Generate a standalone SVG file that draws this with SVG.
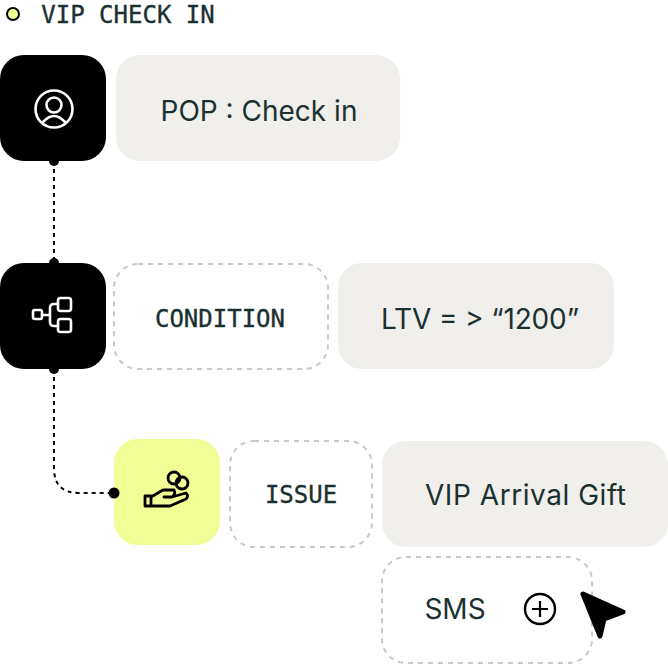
<svg xmlns="http://www.w3.org/2000/svg" width="668" height="664" viewBox="0 0 668 664">
<style>
.sans{font-family:"Inter","Noto Sans","Liberation Sans",sans-serif;font-size:28px;fill:#1b3131;text-anchor:middle}
.mono{font-family:"DejaVu Sans Mono","Liberation Mono",monospace;font-size:24px;fill:#1b3131;stroke:#1b3131;stroke-width:.35;text-anchor:middle}
.dash{fill:#fff;stroke:#c9c9c9;stroke-width:2;stroke-dasharray:5 5}
.grey{fill:#f0efeb}
.ico{fill:none;stroke:#fff;stroke-width:2.6;stroke-linecap:round;stroke-linejoin:round}
.ick{fill:none;stroke:#000;stroke-width:2.8;stroke-linecap:round;stroke-linejoin:round}
.wire{fill:none;stroke:#000;stroke-width:2;stroke-dasharray:4 4}
</style>
<rect width="668" height="664" fill="#fff"/>
<g id="title">
<circle cx="13" cy="14" r="6" fill="#f1fd95" stroke="#000" stroke-width="2"/>
<text class="mono" x="128" y="23">VIP CHECK IN</text>
</g>
<g id="node-pop">
<rect x="0" y="55" width="106" height="106" rx="24"/>
<circle class="ico" cx="54" cy="109" r="18.5"/><circle class="ico" cx="54" cy="105" r="7.5"/><path class="ico" d="M43 122Q54 110 65 122"/>
</g>
<g id="node-pop-label"><rect class="grey" x="116" y="55" width="284" height="106" rx="24"/><text class="sans" x="259" y="121">POP : Check in</text></g>
<g id="node-branch">
<rect x="0" y="263" width="106" height="106" rx="24"/>
<rect class="ico" x="33" y="310" width="9" height="9" rx="2"/><rect class="ico" x="58" y="298" width="13" height="13" rx="2.5"/><rect class="ico" x="58" y="319" width="13" height="13" rx="2.5"/>
<path class="ico" d="M42 315H50M58 304H54Q50 304 50 308V322Q50 326 54 326H58"/>
</g>
<g id="node-condition"><rect class="dash" x="114" y="264" width="214" height="105" rx="24"/><text class="mono" x="220" y="327">CONDITION</text></g>
<g id="node-ltv"><rect class="grey" x="338" y="263" width="276" height="106" rx="24"/><text class="sans" x="480" y="329" textLength="198">LTV = &gt; “1200”</text></g>
<g id="node-gift-icon">
<rect x="114" y="439" width="106" height="106" rx="24" fill="#f1fd95"/>
<circle class="ick" cx="174" cy="478" r="6"/><circle class="ick" cx="182" cy="483" r="6"/>
<path class="ick" d="M145 496H151V506H145ZM151 497L163 490H174Q176 494 172 497H164M172 497L186 493Q189 496 186 499L170 506H151"/>
</g>
<g id="node-issue"><rect class="dash" x="230" y="441" width="142" height="106" rx="24"/><text class="mono" x="301" y="503">ISSUE</text></g>
<g id="node-gift"><rect class="grey" x="382" y="441" width="286" height="106" rx="24"/><text class="sans" x="525.500" y="505" textLength="201">VIP Arrival Gift</text></g>
<g id="node-sms"><rect class="dash" x="382" y="557" width="210" height="106" rx="24"/><text class="sans" x="455" y="619">SMS</text>
<circle cx="540" cy="609" r="15" fill="none" stroke="#000" stroke-width="2.4"/><path d="M532 609H548M540 601V617" fill="none" stroke="#000" stroke-width="2.2"/></g>
<g id="cursor"><path d="M583 594L623 612L604 619L600 636Z" stroke="#000" stroke-width="5" stroke-linejoin="round"/></g>
<g id="connectors">
<path class="wire" d="M54 161V263"/>
<path class="wire" d="M54 369V468Q54 493 79 493H114"/>
<circle cx="54" cy="161" r="5"/><circle cx="54" cy="263" r="5"/><circle cx="54" cy="369" r="5"/><circle cx="114" cy="493" r="5.500"/>
</g>
</svg>
